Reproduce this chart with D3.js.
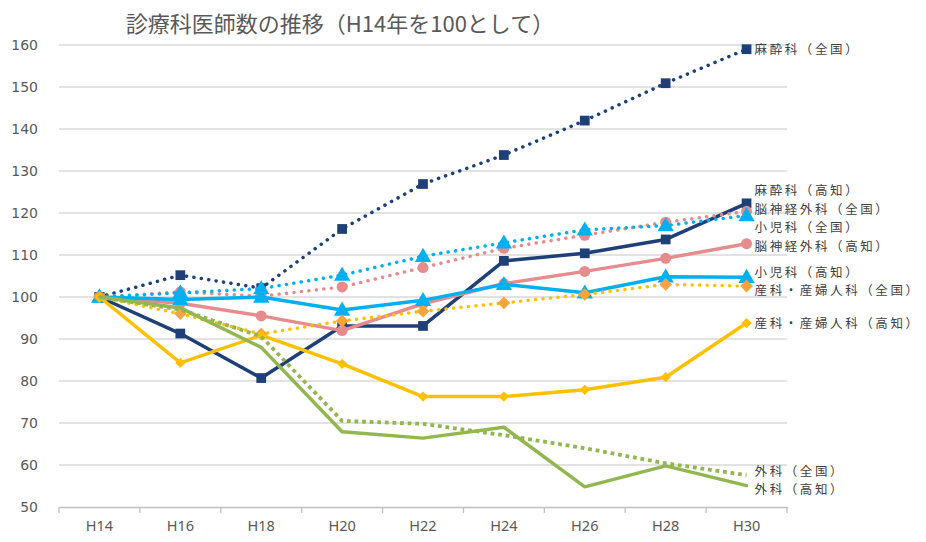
<!DOCTYPE html>
<html><head><meta charset="utf-8">
<script src="https://cdn.jsdelivr.net/npm/d3@7"></script>
<style>
html,body{margin:0;padding:0;background:#fff;}
svg{display:block;}
</style></head>
<body>
<svg id="chart" width="926" height="542"></svg>
<script>
const title = "診療科医師数の推移（H14年を100として）";
const categories = ["H14","H16","H18","H20","H22","H24","H26","H28","H30"];
const yTicks = [50,60,70,80,90,100,110,120,130,140,150,160];

const seriesNames = ["麻酔科（全国）","麻酔科（高知）","脳神経外科（全国）","脳神経外科（高知）","小児科（全国）","小児科（高知）","産科・産婦人科（全国）","産科・産婦人科（高知）","外科（全国）","外科（高知）"];
const masuiZenkoku   = [100,105.2,102.1,116.2,126.9,133.8,142.0,150.9,159.0];
const masuiKochi     = [100, 91.3, 80.7, 93.1, 93.1,108.6,110.4,113.7,122.3];
const noushinZenkoku = [100,101.2,100.2,102.4,107.0,111.6,114.7,117.8,120.4];
const noushinKochi   = [100, 98.5, 95.5, 92.0, 98.4,103.2,106.1,109.2,112.7];
const shonikaZenkoku = [100,101.0,102.0,105.2,109.7,112.9,116.0,117.0,119.4];
const shonikaKochi   = [100, 99.4,100.0, 96.9, 99.2,103.0,101.0,104.8,104.7];
const sankaZenkoku   = [100, 96.0, 91.2, 94.3, 96.6, 98.6,100.6,103.0,102.6];
const sankaKochi     = [100, 84.3, 90.9, 84.1, 76.3, 76.3, 77.9, 80.9, 93.8];
const gekaZenkoku    = [100, 97.0, 90.6, 70.5, 69.8, 67.1, 64.0, 60.4, 57.6];
const gekaKochi      = [100, 97.4, 88.0, 67.9, 66.4, 69.0, 54.8, 59.8, 55.1];

const seriesValues = [masuiZenkoku,masuiKochi,noushinZenkoku,noushinKochi,shonikaZenkoku,shonikaKochi,sankaZenkoku,sankaKochi,gekaZenkoku,gekaKochi];

// styles
const lineColors   = ["#1F3F77","#1F3F77","#E68C8F","#E68C8F","#00B0F0","#00B0F0","#FFC000","#FFC000","#92B650","#92B650"];
const markerColors = ["#1F3F77","#1F3F77","#E68C8F","#E68C8F","#00B0F0","#00B0F0","#F5A53A","#FFC000",null,null];
const markerShapes = ["square","square","circle","circle","triangle","triangle","diamond","diamond",null,null];
const markerSizes  = [95,95,95,95,115,115,80,52,0,0];
const dashStyles   = ["round","solid","round","solid","round","solid","round","solid","square","solid"];

const svg = d3.select("#chart");
const x = d3.scaleBand().domain(categories).range([59,787]);
const y = d3.scaleLinear().domain([50,160]).range([507,45]);
const cx = c => x(c) + x.bandwidth()/2;

// title
svg.append("text").attr("x",340).attr("y",32).attr("text-anchor","middle")
  .attr("font-family","'Noto Sans CJK JP'").attr("font-size",22).attr("fill","#595959").text(title);

// gridlines
svg.append("g").selectAll("line").data(yTicks.filter(t=>t>50)).join("line")
  .attr("x1",59).attr("x2",787).attr("y1",d=>y(d)).attr("y2",d=>y(d))
  .attr("stroke","#D9D9D9").attr("stroke-width",1.3);

// y axis labels
const yAxis = d3.axisLeft(y).tickValues(yTicks).tickSize(0).tickPadding(0);
const gy = svg.append("g").attr("transform","translate(38,0)").call(yAxis);
gy.select(".domain").remove();
gy.selectAll("text").attr("font-family","'DejaVu Sans'").attr("font-size",14).attr("fill","#595959");

// x axis
const xAxis = d3.axisBottom(x).tickSize(0).tickPadding(14);
const gx = svg.append("g").attr("transform","translate(0,507)").call(xAxis);
gx.select(".domain").attr("stroke","#BFBFBF").attr("stroke-width",1.3);
gx.selectAll("text").attr("font-family","'Noto Sans'").attr("font-size",14.5).attr("fill","#595959");
const bounds = categories.map(c=>x(c)).concat([x(categories[categories.length-1])+x.bandwidth()]);
gx.append("g").selectAll("line").data(bounds).join("line")
  .attr("x1",d=>d).attr("x2",d=>d).attr("y1",0).attr("y2",6).attr("stroke","#BFBFBF").attr("stroke-width",1.3);

// lines
const lineGen = d3.line().x((d,i)=>cx(categories[i])).y(d=>y(d));
const plot = svg.append("g");
seriesValues.forEach((vals,si)=>{
  const g = plot.append("g");
  const p = g.append("path").datum(vals).attr("d",lineGen).attr("fill","none")
    .attr("stroke",lineColors[si]).attr("stroke-width",3.5).attr("stroke-linejoin","round");
  if (dashStyles[si]==="round") p.attr("stroke-dasharray","0.1 7.4").attr("stroke-linecap","round");
  else if (dashStyles[si]==="square") p.attr("stroke-dasharray","3.8 3.8").attr("stroke-linecap","butt").attr("stroke-width",3.8);
  else p.attr("stroke-linecap","round");
  if (markerShapes[si]) {
    const shape = markerShapes[si];
    const symType = {square:d3.symbolSquare,circle:d3.symbolCircle,triangle:d3.symbolTriangle,diamond:d3.symbolSquare}[shape];
    const sym = d3.symbol().type(symType).size(markerSizes[si]);
    g.selectAll("path.m").data(vals).join("path").attr("class","m")
      .attr("d",sym)
      .attr("transform",(d,i)=>`translate(${cx(categories[i])},${y(d)})${shape==="diamond"?" rotate(45)":""}${shape==="triangle"?" translate(0,1)":""}`)
      .attr("fill",markerColors[si]);
  }
});

// end labels with simple collision relaxation
const labels = seriesNames.map((n,i)=>({name:n, y0:y(seriesValues[i][categories.length-1])}));
const sorted = labels.slice().sort((a,b)=>a.y0-b.y0);
const gap = 18.5;
let clusters = sorted.map(l=>({items:[l], mean:l.y0}));
let changed = true;
while (changed) {
  changed = false;
  for (let i=0;i<clusters.length-1;i++){
    const a = clusters[i], b = clusters[i+1];
    const aBottom = a.mean + (a.items.length-1)*gap/2;
    const bTop = b.mean - (b.items.length-1)*gap/2;
    if (bTop - aBottom < gap) {
      const items = a.items.concat(b.items);
      const mean = d3.mean(items, d=>d.y0);
      clusters.splice(i,2,{items, mean});
      changed = true; break;
    }
  }
}
clusters.forEach(c=>{
  c.items.forEach((it,k)=>{ it.y = c.mean + (k-(c.items.length-1)/2)*gap; });
});
const lx = cx(categories[categories.length-1]) + 8;
svg.append("g").selectAll("text").data(labels).join("text")
  .attr("x",lx).attr("y",d=>d.y).attr("dy","0.36em")
  .attr("font-family","'Noto Sans CJK JP'").attr("font-size",12.5).attr("letter-spacing",2.6)
  .attr("fill","#404040").text(d=>d.name);
</script>
</body></html>
